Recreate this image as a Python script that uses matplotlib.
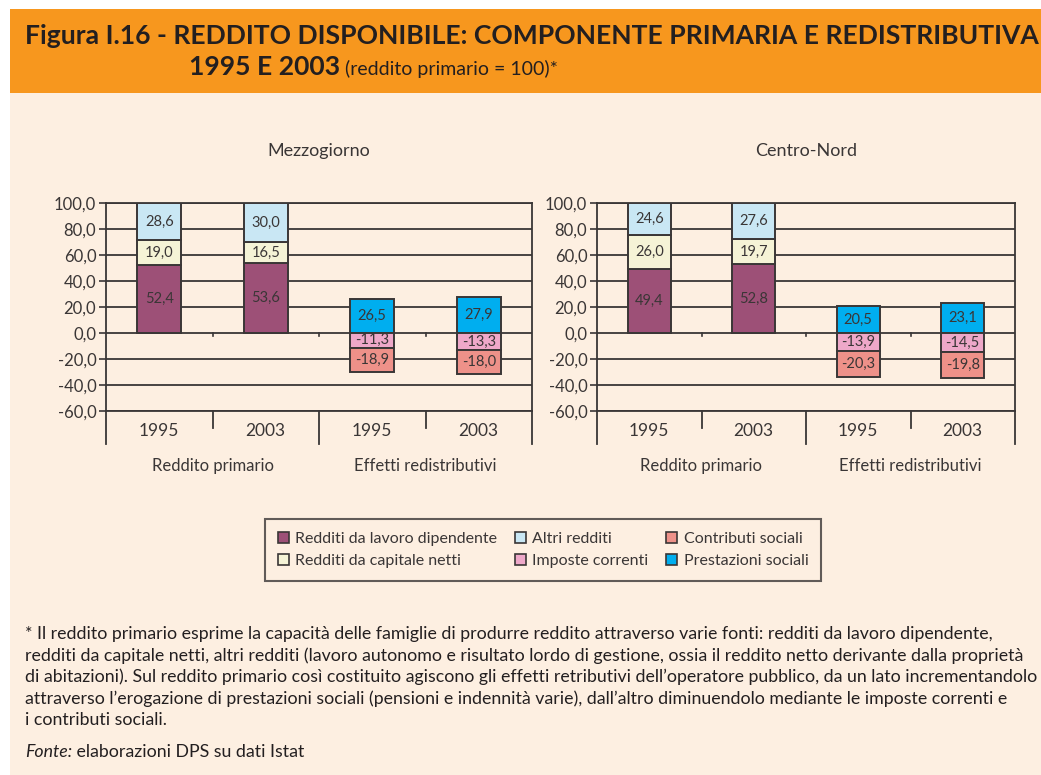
import numpy as np
import matplotlib
matplotlib.use("Agg")
import matplotlib.pyplot as plt
from matplotlib import font_manager
from matplotlib.patches import Rectangle, Patch
from matplotlib.ticker import FuncFormatter

# --- dati (reddito primario = 100) ---
anni = ["1995", "2003"]
gruppi = ["Reddito primario", "Effetti redistributivi"]
aree = ["Mezzogiorno", "Centro-Nord"]

mezz_lavoro = [52.4, 53.6]
mezz_capitale = [19.0, 16.5]
mezz_altri = [28.6, 30.0]
mezz_prestazioni = [26.5, 27.9]
mezz_imposte = [-11.3, -13.3]
mezz_contributi = [-18.9, -18.0]

cn_lavoro = [49.4, 52.8]
cn_capitale = [26.0, 19.7]
cn_altri = [24.6, 27.6]
cn_prestazioni = [20.5, 23.1]
cn_imposte = [-13.9, -14.5]
cn_contributi = [-20.3, -19.8]

voci = ["Redditi da lavoro dipendente", "Redditi da capitale netti", "Altri redditi",
        "Imposte correnti", "Contributi sociali", "Prestazioni sociali"]

# --- colori ---
C_LAV = "#9d5077"
C_CAP = "#f5f3d6"
C_ALT = "#c9e7f4"
C_IMP = "#eea8c9"
C_CON = "#ee9189"
C_PRE = "#00aeef"
EDGE = "#3a3636"
GRID = "#3a3636"
TXT = "#3a3636"
DARK = "#231f20"
BG = "#fdefe1"
ORANGE = "#f7971e"

installed = {f.name for f in font_manager.fontManager.ttflist}


def pick(*names):
    for n in names:
        if n in installed:
            return n
    return "DejaVu Sans"


BODY = pick("Lato", "Open Sans", "Liberation Sans")
plt.rcParams["font.family"] = [BODY, "DejaVu Sans"]

W, H = 1041, 775
fig = plt.figure(figsize=(W / 100, H / 100), dpi=100)
fig.patch.set_facecolor("white")
renderer = fig.canvas.get_renderer()


def fit(texts, target_px):
    # stessa dimensione per tutte le righe, la piu' lunga arriva a target_px
    w = max(t.get_window_extent(renderer).width for t in texts)
    size = texts[0].get_fontsize() * target_px / w
    for t in texts:
        t.set_fontsize(size)
    return size


# sfondo e testata
fig.add_artist(Rectangle((10 / W, 0), 1, 1 - 93 / H, transform=fig.transFigure,
                         facecolor=BG, edgecolor="none", zorder=-10))
fig.add_artist(Rectangle((10 / W, 1 - 93 / H), 1, 84 / H, transform=fig.transFigure,
                         facecolor=ORANGE, edgecolor="none", zorder=-10))

tt = fig.text(25 / W, 1 - 44 / H, "Figura I.16 - REDDITO DISPONIBILE: COMPONENTE PRIMARIA E REDISTRIBUTIVA",
              fontsize=16, fontweight="bold", color=DARK, va="baseline")
tsize = fit([tt], 1012)
t1 = fig.text(189 / W, 1 - 75 / H, "1995 E 2003", fontsize=tsize,
              fontweight="bold", color=DARK, va="baseline")


def fmt(v):
    return f"{v:.1f}".replace(".", ",")


def pannello(ax, titolo, lavoro, capitale, altri, prestazioni, imposte, contributi):
    ax.set_facecolor("none")
    w = 0.41
    xp = np.array([0, 1])
    xr = np.array([2, 3])
    lav = np.array(lavoro)
    cap = np.array(capitale)
    imp = np.array(imposte)
    kw = dict(edgecolor=EDGE, linewidth=1.4, zorder=3)
    serie = [
        (ax.bar(xp, lav, w, color=C_LAV, **kw), lavoro),
        (ax.bar(xp, cap, w, bottom=lav, color=C_CAP, **kw), capitale),
        (ax.bar(xp, altri, w, bottom=lav + cap, color=C_ALT, **kw), altri),
        (ax.bar(xr, prestazioni, w, color=C_PRE, **kw), prestazioni),
        (ax.bar(xr, imp, w, color=C_IMP, **kw), imposte),
        (ax.bar(xr, contributi, w, bottom=imp, color=C_CON, **kw), contributi),
    ]
    for bars, vals in serie:
        ax.bar_label(bars, labels=[fmt(v) for v in vals], label_type="center",
                     fontsize=10.5, color=TXT)

    ax.set_xlim(-0.5, 3.5)
    ax.set_ylim(-60, 100)
    ax.set_yticks(np.arange(-60, 101, 20))
    ax.yaxis.set_major_formatter(FuncFormatter(lambda v, p: fmt(v)))
    ax.set_xticks([])
    ax.yaxis.grid(True, color=GRID, linewidth=1.3)
    ax.set_axisbelow(True)
    for s in ax.spines.values():
        s.set_color(EDGE)
        s.set_linewidth(1.3)
    ax.tick_params(axis="y", direction="out", length=5, width=1.2, color=EDGE,
                   labelsize=12, labelcolor=TXT, pad=2)

    tr = ax.get_xaxis_transform()
    for xv in [-0.5, 1.5, 3.5]:
        ax.plot([xv, xv], [0, -0.159], transform=tr, clip_on=False, color=EDGE, lw=1.3)
    for xv in [0.5, 2.5]:
        ax.plot([xv, xv], [0, -0.082], transform=tr, clip_on=False, color=EDGE, lw=1.3)
    for xv in [0.5, 1.5, 2.5]:
        ax.plot([xv, xv], [0, -2], color=EDGE, lw=1.2, zorder=2)

    for i, a in enumerate(anni + anni):
        ax.text(i, -0.096, a, transform=tr, ha="center", va="center", fontsize=12.5, color=TXT)
    for i, g in enumerate(gruppi):
        ax.text(0.5 + 2 * i, -0.264, g, transform=tr, ha="center", va="center",
                fontsize=12, color=TXT)
    ax.set_title(titolo, fontsize=13, color=TXT, pad=49, y=0.9)


ax1 = fig.add_axes([106 / W, 1 - 411 / H, 426 / W, 208 / H])
ax2 = fig.add_axes([597 / W, 1 - 411 / H, 418 / W, 208 / H])
pannello(ax1, aree[0], mezz_lavoro, mezz_capitale, mezz_altri,
         mezz_prestazioni, mezz_imposte, mezz_contributi)
pannello(ax2, aree[1], cn_lavoro, cn_capitale, cn_altri,
         cn_prestazioni, cn_imposte, cn_contributi)

ax1.annotate(" (reddito primario = 100)*", xy=(1, 1 - 75 / H), xycoords=(t1, "figure fraction"),
             fontsize=14, color=DARK, va="baseline", ha="left", annotation_clip=False)

colori = [C_LAV, C_CAP, C_ALT, C_IMP, C_CON, C_PRE]
handles = [Patch(facecolor=c, edgecolor=EDGE, linewidth=1.2) for c in colori]
leg = fig.legend(handles, voci, ncol=3, loc="center", bbox_to_anchor=(543 / W, 1 - 550 / H),
                 frameon=True, fancybox=False, edgecolor=EDGE, facecolor=BG,
                 handlelength=0.7, handleheight=0.7, handletextpad=0.4,
                 columnspacing=1.1, fontsize=11.5, borderpad=0.8, labelspacing=0.5,
                 labelcolor=TXT)
leg.get_frame().set_linewidth(1.5)

# nota
nota = [
    "* Il reddito primario esprime la capacità delle famiglie di produrre reddito attraverso varie fonti: redditi da lavoro dipendente,",
    "redditi da capitale netti, altri redditi (lavoro autonomo e risultato lordo di gestione, ossia il reddito netto derivante dalla proprietà",
    "di abitazioni). Sul reddito primario così costituito agiscono gli effetti retributivi dell’operatore pubblico, da un lato incrementandolo",
    "attraverso l’erogazione di prestazioni sociali (pensioni e indennità varie), dall’altro diminuendolo mediante le imposte correnti e",
    "i contributi sociali.",
]
righe = [fig.text(25 / W, 1 - (634 + 21.5 * i) / H, riga, fontsize=11, color=DARK, va="center")
         for i, riga in enumerate(nota)]
nsize = fit(righe, 1010)
tf = fig.text(25 / W, 1 - 752 / H, "Fonte:", fontsize=nsize, style="italic", color=DARK, va="center")
ax1.annotate(" elaborazioni DPS su dati Istat", xy=(1, 1 - 752 / H), xycoords=(tf, "figure fraction"),
             fontsize=nsize, color=DARK, va="center", ha="left", annotation_clip=False)

fig.savefig("out.png", dpi=100, facecolor=fig.get_facecolor())
